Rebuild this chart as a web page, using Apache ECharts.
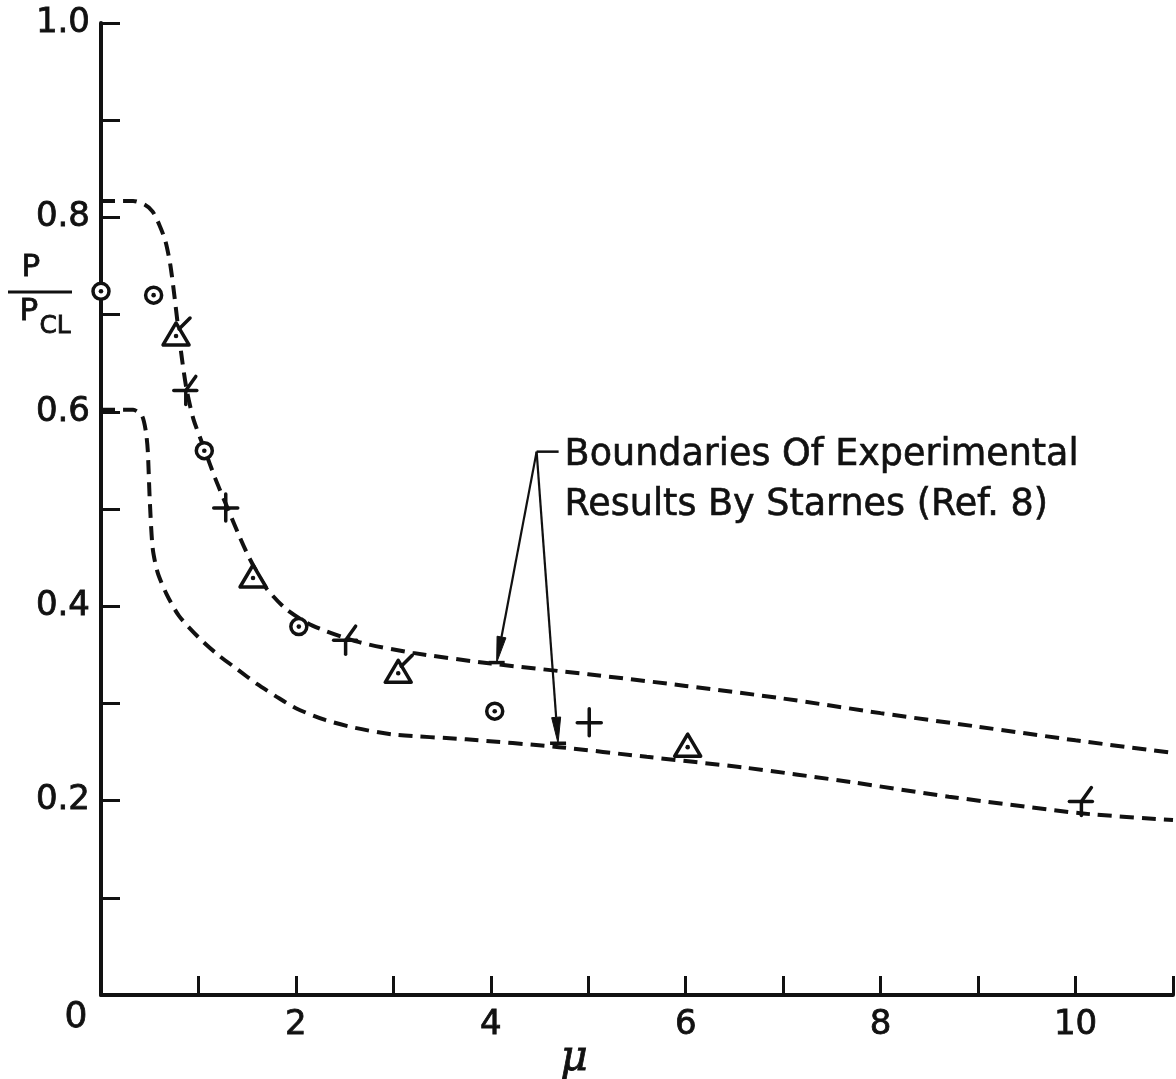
<!DOCTYPE html>
<html>
<head>
<meta charset="utf-8">
<script src="https://cdn.jsdelivr.net/npm/echarts@6/dist/echarts.min.js"></script>
<style>
  html, body { margin: 0; padding: 0; background: #fff; }
  #chart { width: 1176px; height: 1079px; }
</style>
</head>
<body>
<div id="chart"></div>
<script>
// Boundaries of experimental results (Starnes, Ref. 8): [mu, P/Pcl]
const upperBoundary = [
  [0, 0.817], [0.33, 0.817], [0.45, 0.813], [0.53, 0.806], [0.6, 0.792],
  [0.66, 0.776], [0.71, 0.752], [0.75, 0.722], [0.79, 0.688], [0.83, 0.655],
  [0.88, 0.622], [0.95, 0.592], [1.06, 0.562], [1.17, 0.532], [1.29, 0.503],
  [1.42, 0.472], [1.51, 0.452], [1.6, 0.435], [1.7, 0.418], [1.9, 0.397],
  [2.17, 0.38], [2.65, 0.363], [3.2, 0.352], [4, 0.341], [5, 0.33],
  [6, 0.318], [7, 0.305], [8, 0.29], [9, 0.276], [10, 0.262], [11, 0.249]
];
const lowerBoundary = [
  [0, 0.602], [0.33, 0.602], [0.42, 0.596], [0.46, 0.58], [0.48, 0.56],
  [0.5, 0.51], [0.53, 0.46], [0.58, 0.435], [0.67, 0.413], [0.8, 0.39],
  [1.0, 0.368], [1.2, 0.35], [1.4, 0.335], [1.6, 0.32], [1.8, 0.307],
  [2.0, 0.295], [2.3, 0.283], [2.6, 0.275], [3.0, 0.268], [3.75, 0.263],
  [4.7, 0.255], [5.6, 0.245], [6.6, 0.234], [7.7, 0.219], [8.7, 0.204],
  [10.05, 0.187], [11, 0.18]
];

// Test points by symbol
const circlePoints = [[0, 0.724], [0.54, 0.72], [1.06, 0.56], [2.03, 0.379], [4.04, 0.292]];
const trianglePoints = [[1.56, 0.429], [6.02, 0.255]];
const flaggedTrianglePoints = [[0.77, 0.678], [3.05, 0.331]];
const plusPoints = [[1.28, 0.501], [5.01, 0.28]];
const flaggedPlusPoints = [[0.87, 0.622], [2.51, 0.365], [10.06, 0.199]];

// Callout: leader corner, then the two arrow tips on the boundaries
const calloutPoints = [[4.47, 0.559, 4.06, 0.342, 4.69, 0.259]];
const calloutLines = ['Boundaries Of Experimental', 'Results By Starnes (Ref. 8)'];

const xLabelValues = [2, 4, 6, 8, 10];
const yLabelValues = [2, 4, 6, 8, 10]; // tenths

const INK = '#111';
const FONT = '"DejaVu Sans", sans-serif';

function markerRenderer(kind) {
  return function (params, api) {
    const p = api.coord([api.value(0), api.value(1)]);
    const cx = p[0], cy = p[1];
    const line = { stroke: INK, lineWidth: 3.5, fill: null, lineCap: 'round' };
    const kids = [];
    if (kind === 'circle') {
      kids.push({ type: 'circle', shape: { cx, cy, r: 8 }, style: { fill: '#fff', stroke: INK, lineWidth: 3.5 } });
      kids.push({ type: 'circle', shape: { cx, cy, r: 2.3 }, style: { fill: INK } });
    } else if (kind === 'triangle' || kind === 'flagTriangle') {
      kids.push({ type: 'polygon', shape: { points: [[cx, cy - 13], [cx - 13, cy + 9], [cx + 13, cy + 9]] },
        style: { fill: '#fff', stroke: INK, lineWidth: 3.5, lineJoin: 'round' } });
      kids.push({ type: 'circle', shape: { cx, cy, r: 2.3 }, style: { fill: INK } });
      if (kind === 'flagTriangle') {
        kids.push({ type: 'line', shape: { x1: cx + 3, y1: cy - 7, x2: cx + 14, y2: cy - 18 }, style: line });
      }
    } else if (kind === 'plus') {
      kids.push({ type: 'line', shape: { x1: cx - 12, y1: cy, x2: cx + 12, y2: cy }, style: line });
      kids.push({ type: 'line', shape: { x1: cx, y1: cy - 14, x2: cx, y2: cy + 13 }, style: line });
    } else if (kind === 'flagPlus') {
      kids.push({ type: 'line', shape: { x1: cx - 12, y1: cy, x2: cx + 11, y2: cy }, style: line });
      kids.push({ type: 'line', shape: { x1: cx, y1: cy, x2: cx, y2: cy + 14 }, style: line });
      kids.push({ type: 'line', shape: { x1: cx, y1: cy, x2: cx + 10, y2: cy - 14 }, style: line });
    }
    return { type: 'group', children: kids };
  };
}

function markerSeries(data, kind) {
  return {
    type: 'custom',
    coordinateSystem: 'cartesian2d',
    data: data,
    encode: { x: 0, y: 1 },
    z: 6,
    clip: false,
    silent: true,
    renderItem: markerRenderer(kind)
  };
}

function arrowTo(from, tip) {
  const dx = tip[0] - from[0], dy = tip[1] - from[1];
  const len = Math.sqrt(dx * dx + dy * dy);
  const ux = dx / len, uy = dy / len;
  const bx = tip[0] - ux * 26, by = tip[1] - uy * 26;
  const nx = -uy, ny = ux;
  return [
    { type: 'line', shape: { x1: from[0], y1: from[1], x2: bx, y2: by }, style: { stroke: INK, lineWidth: 2.2 } },
    { type: 'polygon', shape: { points: [[tip[0], tip[1]], [bx + nx * 4.5, by + ny * 4.5], [bx - nx * 4.5, by - ny * 4.5]] },
      style: { fill: INK, stroke: INK, lineWidth: 1 } },
    { type: 'line', shape: { x1: tip[0] - 8, y1: tip[1], x2: tip[0] + 8, y2: tip[1] }, style: { stroke: INK, lineWidth: 3.5 } }
  ];
}

const textWeight = { textBorderColor: INK, textBorderWidth: 0.8 };

const chart = echarts.init(document.getElementById('chart'), null, { renderer: 'canvas' });

chart.setOption({
  backgroundColor: '#fff',
  animation: false,
  grid: { left: 101, right: 1, top: 23, bottom: 84 },
  xAxis: {
    type: 'value', min: 0, max: 11, interval: 1,
    axisLine: { lineStyle: { color: INK, width: 4 } },
    axisTick: { inside: true, length: 19, lineStyle: { color: INK, width: 3 } },
    splitLine: { show: false },
    axisLabel: Object.assign({
      margin: 13, fontSize: 34, color: INK, fontFamily: FONT,
      formatter: v => (xLabelValues.indexOf(Math.round(v)) >= 0 ? String(Math.round(v)) : '')
    }, textWeight)
  },
  yAxis: {
    type: 'value', min: 0, max: 1, interval: 0.1,
    axisLine: { show: true, lineStyle: { color: INK, width: 4 } },
    axisTick: { show: true, inside: true, length: 19, lineStyle: { color: INK, width: 3 } },
    splitLine: { show: false },
    axisLabel: Object.assign({
      margin: 11, fontSize: 34, color: INK, fontFamily: FONT,
      formatter: v => {
        const t = Math.round(v * 10);
        return yLabelValues.indexOf(t) >= 0 ? (t / 10).toFixed(1) : '';
      }
    }, textWeight)
  },
  graphic: [
    { type: 'text', left: 64, top: 999, style: { text: '0', fontSize: 36, fill: INK, fontFamily: FONT, stroke: INK, lineWidth: 0.8 } },
    { type: 'text', left: 560, top: 1038, style: { text: 'μ', fontSize: 42, fontStyle: 'italic', fill: INK, fontFamily: '"DejaVu Serif", serif', stroke: INK, lineWidth: 0.8 } },
    { type: 'text', left: 21, top: 252, style: { text: 'P', fontSize: 31, fill: INK, fontFamily: FONT, stroke: INK, lineWidth: 0.8 } },
    { type: 'line', shape: { x1: 8, y1: 292, x2: 72, y2: 292 }, style: { stroke: INK, lineWidth: 3 } },
    { type: 'text', left: 19, top: 296, style: { text: 'P', fontSize: 31, fill: INK, fontFamily: FONT, stroke: INK, lineWidth: 0.8 } },
    { type: 'text', left: 39, top: 314, style: { text: 'CL', fontSize: 25, fill: INK, fontFamily: FONT, stroke: INK, lineWidth: 0.8 } }
  ],
  series: [
    {
      name: 'Upper boundary', type: 'line', data: upperBoundary, smooth: 0.25,
      showSymbol: false, silent: true, z: 3,
      lineStyle: { color: INK, width: 4, type: [14, 8] }
    },
    {
      name: 'Lower boundary', type: 'line', data: lowerBoundary, smooth: 0.25,
      showSymbol: false, silent: true, z: 3,
      lineStyle: { color: INK, width: 4, type: [14, 8] }
    },
    markerSeries(circlePoints, 'circle'),
    markerSeries(trianglePoints, 'triangle'),
    markerSeries(flaggedTrianglePoints, 'flagTriangle'),
    markerSeries(plusPoints, 'plus'),
    markerSeries(flaggedPlusPoints, 'flagPlus'),
    {
      type: 'custom',
      coordinateSystem: 'cartesian2d',
      data: calloutPoints,
      encode: { x: [0, 2, 4], y: [1, 3, 5] },
      z: 7, clip: false, silent: true,
      renderItem: function (params, api) {
        const apex = api.coord([api.value(0), api.value(1)]);
        const tipA = api.coord([api.value(2), api.value(3)]);
        const tipB = api.coord([api.value(4), api.value(5)]);
        const kids = [
          { type: 'line', shape: { x1: apex[0], y1: apex[1], x2: apex[0] + 22, y2: apex[1] }, style: { stroke: INK, lineWidth: 2.5 } }
        ].concat(arrowTo(apex, tipA), arrowTo(apex, tipB));
        calloutLines.forEach((s, i) => {
          kids.push({ type: 'text', x: apex[0] + 28, y: apex[1] + 4 + i * 50,
            style: { text: s, fontSize: 36.5, fill: INK, fontFamily: FONT, verticalAlign: 'middle', align: 'left',
              stroke: INK, lineWidth: 0.6 } });
        });
        return { type: 'group', children: kids };
      }
    }
  ]
});
</script>
</body>
</html>
